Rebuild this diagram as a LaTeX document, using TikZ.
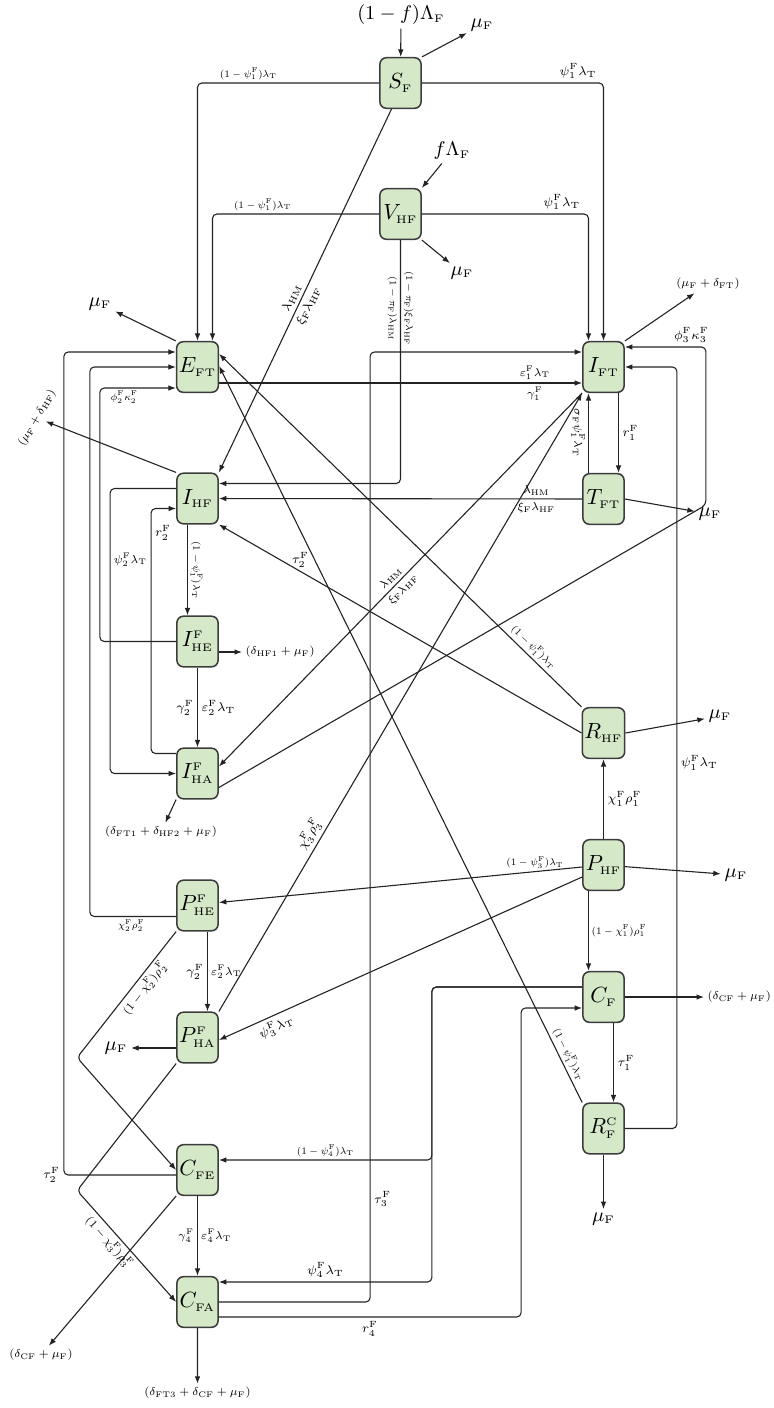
\documentclass[tikz,border=0pt]{standalone}
\usepackage{amsmath, amssymb}
\usepackage{xcolor}
\usepackage{tikz}
\usetikzlibrary{arrows.meta, calc}
\definecolor{cmgreen}{RGB}{213, 232, 200}
\definecolor{cmedge}{RGB}{60, 60, 60}
\definecolor{cmline}{RGB}{35, 35, 35}
\newcommand{\subs}[1]{{\scriptscriptstyle\mathrm{#1}}}

\begin{document}
\begin{tikzpicture}[
    x=0.016cm, y=-0.016cm,
    box/.style={
        rectangle, rounded corners=3pt, draw=cmedge, line width=0.7pt,
        fill=cmgreen, minimum width=0.66cm, minimum height=0.81cm,
        inner sep=1pt
    },
    arr/.style={-{Latex[length=1.2mm, width=0.9mm]}, line width=0.5pt, cmline, rounded corners=2pt},
    ext/.style={font=\small, inner sep=1.5pt},
    lsm/.style={font=\scriptsize, scale=0.64, inner sep=2pt, text=black},
    lmd/.style={font=\scriptsize, scale=0.74, inner sep=2pt, text=black},
    lbg/.style={font=\scriptsize, scale=0.82, inner sep=2pt, text=black}
]
\useasboundingbox (0,0) rectangle (774,1408);

% compartments
\node[box] (sf) at (400.5,83) {$S_{\subs F}$};
\node[box] (vhf) at (400.5,214) {$V_{\subs{HF}}$};
\node[box] (eft) at (197.5,367) {$E_{\subs{FT}}$};
\node[box] (ift) at (603.5,367) {$I_{\subs{FT}}$};
\node[box] (ihf) at (197.5,498.5) {$I_{\subs{HF}}$};
\node[box] (tft) at (603.5,499) {$T_{\subs{FT}}$};
\node[box] (ihe) at (197.5,641.5) {$I^{\subs F}_{\subs{HE}}$};
\node[box] (iha) at (197.5,773.5) {$I^{\subs F}_{\subs{HA}}$};
\node[box] (rhf) at (603.5,733) {$R_{\subs{HF}}$};
\node[box] (phf) at (603.5,865) {$P_{\subs{HF}}$};
\node[box] (phe) at (197.5,905.5) {$P^{\subs F}_{\subs{HE}}$};
\node[box] (pha) at (197.5,1037.5) {$P^{\subs F}_{\subs{HA}}$};
\node[box] (cf) at (603.5,997) {$C_{\subs F}$};
\node[box] (rfc) at (603.5,1128.5) {$R^{\subs C}_{\subs F}$};
\node[box] (cfe) at (197.5,1170) {$C_{\subs{FE}}$};
\node[box] (cfa) at (197.5,1302) {$C_{\subs{FA}}$};

% inflows and outflows
\node[ext] (insf) at (401,15) {$(1-f)\Lambda_{\subs F}$};
\node[ext] (musf) at (482,25) {$\mu_{\subs F}$};
\node[ext] (invhf) at (452,151) {$f\Lambda_{\subs F}$};
\node[ext] (muvhf) at (462,273) {$\mu_{\subs F}$};
\node[lmd] (muift) at (708,284) {$(\mu_{\subs F}+\delta_{\subs{FT}})$};
\node[ext] (mueft) at (100,304) {$\mu_{\subs F}$};
\node[lmd, rotate=60] (muihf) at (37,418) {$(\mu_{\subs F}+\delta_{\subs{HF}})$};
\node[ext] (mutft) at (710,514) {$\mu_{\subs F}$};
\node[lmd, anchor=west] (dihe) at (242,652) {$(\delta_{\subs{HF1}}+\mu_{\subs F})$};
\node[lmd] (diha) at (161,832) {$(\delta_{\subs{FT1}}+\delta_{\subs{HF2}}+\mu_{\subs F})$};
\node[ext] (murhf) at (720,716) {$\mu_{\subs F}$};
\node[ext] (muphf) at (736,875) {$\mu_{\subs F}$};
\node[lmd, anchor=west] (dcf) at (704,997) {$(\delta_{\subs{CF}}+\mu_{\subs F})$};
\node[ext] (mupha) at (116,1048) {$\mu_{\subs F}$};
\node[ext] (murfc) at (603.5,1219) {$\mu_{\subs F}$};
\node[lmd] (dcfe) at (41,1355) {$(\delta_{\subs{CF}}+\mu_{\subs F})$};
\node[lmd] (dcfa) at (197.5,1393) {$(\delta_{\subs{FT3}}+\delta_{\subs{CF}}+\mu_{\subs F})$};

\draw[arr] (insf) -- (sf);
\draw[arr] (sf.north east) -- (musf);
\draw[arr] (invhf) -- (vhf.north east);
\draw[arr] (vhf.south east) -- (muvhf);
\draw[arr] (ift.north east) -- (muift);
\draw[arr] (eft.north west) -- (mueft);
\draw[arr] (ihf.north west) -- (muihf);
\draw[arr] (tft.east) -- (mutft);
\draw[arr] ($(ihe.east)+(0,10.5)$) -- (dihe);
\draw[arr] (iha.south west) -- (diha);
\draw[arr] (rhf.east) -- (murhf);
\draw[arr] (phf) -- (muphf);
\draw[arr] (cf) -- (dcf);
\draw[arr] ($(pha.west)+(0,10.5)$) -- (mupha);
\draw[arr] (rfc) -- (murfc);
\draw[arr] (cfe.south west) -- (dcfe);
\draw[arr] (cfa) -- (dcfa);

% susceptible and vaccinated
\draw[arr] (sf) -| node[pos=0.36, above, lsm] {$(1-\psi^{\subs F}_1)\lambda_{\subs T}$} (eft);
\draw[arr] (sf) -| node[pos=0.43, above, lbg] {$\psi^{\subs F}_1\lambda_{\subs T}$} (ift);
\draw[arr] ($(sf.south)+(-9,0)$) -- node[pos=0.53, sloped, above, lbg] {$\lambda_{\subs{HM}}$}
    node[pos=0.53, sloped, below, lbg] {$\xi_{\subs F}\lambda_{\subs{HF}}$} (ihf.north east);
\draw[arr] (vhf) -| node[pos=0.35, above, lsm] {$(1-\psi^{\subs F}_1)\lambda_{\subs T}$} ($(eft.north)+(15,0)$);
\draw[arr] (vhf) -| node[pos=0.42, above, lbg] {$\psi^{\subs F}_1\lambda_{\subs T}$} ($(ift.north)+(-15,0)$);
\draw[arr] (vhf) |- node[pos=0.14, rotate=-90, anchor=north, lsm] {$(1-\pi_{\subs F})\lambda_{\subs{HM}}$}
    node[pos=0.14, rotate=-90, anchor=south, lsm] {$(1-\pi_{\subs F})\xi_{\subs F}\lambda_{\subs{HF}}$} ($(ihf.east)+(0,-15)$);

% into E_FT
\draw[arr] ($(cfe.west)+(0,5)$) -| node[pos=0.5, left, lbg] {$\tau^{\subs F}_2$} ($(eft.west)+(-112,-15)$) -- ($(eft.west)+(0,-15)$);
\draw[arr] ($(phe.west)+(0,11)$) -| node[pos=0.26, below, lsm] {$\chi^{\subs F}_2\rho^{\subs F}_2$} ($(eft.west)+(-86,0)$) -- (eft.west);
\draw[arr] (ihe) -| ($(eft.west)+(-76,21)$) -- node[pos=0.32, below, lsm] {$\phi^{\subs F}_2\kappa^{\subs F}_2$} ($(eft.west)+(0,21)$);
\draw[arr] (rhf.north west) -- node[pos=0.15, sloped, above, lsm] {$(1-\psi^{\subs F}_1)\lambda_{\subs T}$} ($(eft.east)+(0,-13)$);
\draw[arr] (rfc.north west) -- node[pos=0.06, sloped, above, lsm] {$(1-\psi^{\subs F}_1)\lambda_{\subs T}$} ($(eft.east)+(0,-1)$);

% into I_FT
\draw[arr] ($(eft.east)+(0,16)$) -- node[pos=0.87, above, lmd] {$\varepsilon^{\subs F}_1\lambda_{\subs T}$}
    node[pos=0.87, below, lmd] {$\gamma^{\subs F}_1$} ($(ift.west)+(0,16)$);
\draw[arr] (cfa) -| node[pos=0.554, right, lbg] {$\tau^{\subs F}_3$} ($(ift.west)+(-212,-15)$) -- ($(ift.west)+(0,-15)$);
\draw[arr] ($(iha.east)+(0,14)$) -- ($(ift.east)+(81,138)$) |- node[pos=0.59, above, lbg] {$\phi^{\subs F}_3\kappa^{\subs F}_3$} ($(ift.east)+(0,-20)$);
\draw[arr] (rfc) -| node[pos=0.74, right, lbg] {$\psi^{\subs F}_1\lambda_{\subs T}$} ($(ift.east)+(52,0)$) -- (ift.east);
\draw[arr] ($(tft.north)+(-15,0)$) -- node[midway, rotate=-90, anchor=north, lmd] {$\sigma_{\subs F}\psi^{\subs F}_1\lambda_{\subs T}$} ($(ift.south)+(-15,0)$);
\draw[arr] ($(ift.south)+(15,0)$) -- node[midway, right, lbg] {$r^{\subs F}_1$} ($(tft.north)+(15,0)$);
\draw[arr] (pha.north east) -- node[pos=0.277, sloped, above, lbg] {$\chi^{\subs F}_3\rho^{\subs F}_3$} (ift.south west);
\draw[arr] (ift.south west) -- node[pos=0.51, sloped, above, lmd] {$\lambda_{\subs{HM}}$}
    node[pos=0.51, sloped, below, lmd] {$\xi_{\subs F}\lambda_{\subs{HF}}$} ($(iha.east)+(0,-7)$);

% hiv side
\draw[arr] (tft) -- node[pos=0.126, above, lmd] {$\lambda_{\subs{HM}}$}
    node[pos=0.126, below, lmd] {$\xi_{\subs F}\lambda_{\subs{HF}}$} (ihf);
\draw[arr] (rhf.west) -- node[pos=0.775, above, lbg] {$\tau^{\subs F}_2$} (ihf.south east);
\draw[arr] ($(ihf.south)+(-10,0)$) -- node[midway, rotate=-90, anchor=south, lsm] {$(1-\psi^{\subs F}_1)\lambda_{\subs T}$} ($(ihe.north)+(-10,0)$);
\draw[arr] ($(ihf.west)+(0,-10)$) -| node[pos=0.625, right, lmd] {$\psi^{\subs F}_2\lambda_{\subs T}$} ($(iha.west)+(-66,0)$) -- (iha.west);
\draw[arr] ($(iha.west)+(0,-20)$) -| node[pos=0.95, right, lbg] {$r^{\subs F}_2$} ($(ihf.west)+(-25,10)$) -- ($(ihf.west)+(0,10)$);
\draw[arr] (ihe) -- node[midway, left, lbg] {$\gamma^{\subs F}_2$}
    node[midway, right, lbg] {$\varepsilon^{\subs F}_2\lambda_{\subs T}$} (iha);

% preventive therapy
\draw[arr] (phf) -- node[midway, right, lbg] {$\chi^{\subs F}_1\rho^{\subs F}_1$} (rhf);
\draw[arr] ($(phf.west)+(0,2)$) -- node[pos=0.13, above, lsm] {$(1-\psi^{\subs F}_3)\lambda_{\subs T}$} ($(phe.east)+(0,-3)$);
\draw[arr] ($(phf.west)+(0,12)$) -- node[pos=0.855, sloped, below, lbg] {$\psi^{\subs F}_3\lambda_{\subs T}$} ($(pha.east)+(0,2.5)$);
\draw[arr] ($(phf.south)+(-15,0)$) -- node[midway, right, lsm] {$(1-\chi^{\subs F}_1)\rho^{\subs F}_1$} ($(cf.north)+(-15,0)$);
\draw[arr] ($(phe.south)+(10,0)$) -- node[midway, left, lbg] {$\gamma^{\subs F}_2$}
    node[midway, right, lmd] {$\varepsilon^{\subs F}_2\lambda_{\subs T}$} ($(pha.north)+(10,0)$);
\draw[arr] (phe.south west) -- node[pos=0.4, sloped, below, lmd] {$(1-\chi^{\subs F}_2)\rho^{\subs F}_2$} ++(-99,126) -- (cfe.west);
\draw[arr] (pha.south west) -- ++(-99,127) -- node[pos=0.4, sloped, below, lmd] {$(1-\chi^{\subs F}_3)\rho^{\subs F}_3$} (cfa.west);

% completed treatment
\draw[arr] ($(cf.south)+(10,0)$) -- node[midway, right, lbg] {$\tau^{\subs F}_1$} ($(rfc.north)+(10,0)$);
\draw[arr] ($(cf.west)+(0,-10)$) -| ($(cfe.east)+(213,-10)$) -- node[midway, above, lsm] {$(1-\psi^{\subs F}_4)\lambda_{\subs T}$} ($(cfe.east)+(0,-10)$);
\draw[arr] ($(cf.west)+(0,-10)$) -| ($(cfa.east)+(213,-20)$) -- node[midway, above, lbg] {$\psi^{\subs F}_4\lambda_{\subs T}$} ($(cfa.east)+(0,-20)$);
\draw[arr] ($(cfa.east)+(0,15)$) -| node[pos=0.25, below, lbg] {$r^{\subs F}_4$} ($(cf.west)+(-61,11)$) -- ($(cf.west)+(0,11)$);
\draw[arr] (cfe) -- node[midway, left, lmd] {$\gamma^{\subs F}_4$}
    node[midway, right, lmd] {$\varepsilon^{\subs F}_4\lambda_{\subs T}$} (cfa);

\end{tikzpicture}
\end{document}
